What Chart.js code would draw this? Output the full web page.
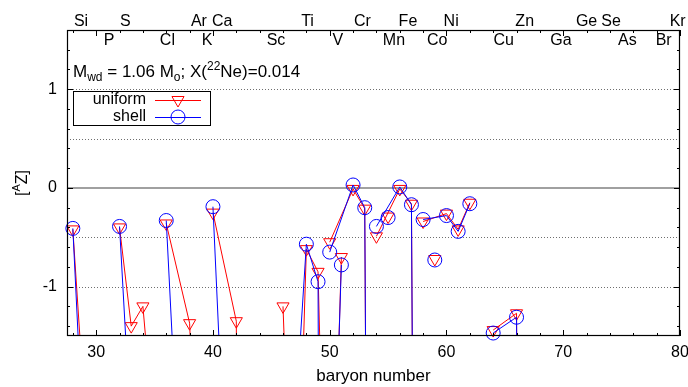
<!DOCTYPE html>
<html>
<head>
<meta charset="utf-8">
<script src="https://cdn.jsdelivr.net/npm/chart.js@4"></script>
<style>
  html, body { margin: 0; padding: 0; background: #fff; }
  #wrap { width: 688px; height: 387px; }
</style>
</head>
<body>
<div id="wrap"><canvas id="myChart"></canvas></div>
<script>
// isotopes grouped by element (Z order); each element is one connected run
const elements = ["Si", "P", "S", "Cl", "Ar", "K", "Ca", "Sc", "Ti", "V", "Cr", "Mn", "Fe", "Co", "Ni", "Cu", "Zn"];
const isotopes = [
  [28, 29, 30], [31], [32, 33, 34, 36], [35, 37], [36, 38, 40], [39, 41],
  [40, 42, 43, 44, 46, 48], [45], [46, 47, 48, 49, 50], [50, 51], [50, 52, 53, 54],
  [55], [54, 56, 57, 58], [59], [58, 60, 61, 62], [63, 65], [64, 66, 67, 68, 70]
];

// log production factors, uniform 22Ne
const uniform = [
  [-0.42, -2.22, -2.6], [-2.9], [-0.40, -1.40, -1.20, -3.9], [-2.6, -3.4], [-0.36, -1.37, -7.0], [-2.8, -3.5],
  [-0.25, -1.35, -20, -6.0, -9.0, -20], [-3.5], [-1.20, -4.45, -0.62, -0.85, -5.5], [-4.7, -0.70], [-0.55, -0.01, -0.21, -20],
  [-0.29], [-0.49, -0.01, -0.16, -20], [-0.72], [-0.34, -0.26, -0.42, -0.15], [-2.5, -2.4], [-1.44, -1.27, -20, -20, -20]
];

// log production factors, 22Ne in a shell
const shell = [
  [-0.41, -2.83, -3.0], [-3.0], [-0.39, -2.52, -2.8, -4.5], [-2.8, -3.6], [-0.33, -5.0, -8.0], [-3.0, -3.8],
  [-0.19, -5.4, -20, -7.0, -10, -20], [-4.0], [-3.0, -2.43, -0.57, -0.95, -30], [-4.4, -0.78], [-0.65, 0.03, -0.20, -20],
  [-0.30], [-0.39, 0.01, -0.17, -20], [-0.73], [-0.32, -0.28, -0.44, -0.16], [-2.7, -2.6], [-1.47, -1.31, -20, -20, -20]
];

// element names on the upper edge, two staggered rows
const upperNames = ["Si", "S", "Ar", "Ca", "Ti", "Cr", "Fe", "Ni", "Zn", "Ge", "Se", "Kr"];
const upperPos = [28.7, 32.5, 38.8, 40.8, 48.1, 52.8, 56.7, 60.4, 66.7, 72.0, 74.1, 79.8];
const lowerNames = ["P", "Cl", "K", "Sc", "V", "Mn", "Co", "Cu", "Ga", "As", "Br"];
const lowerPos = [31.1, 36.1, 39.5, 45.4, 50.7, 55.5, 59.2, 64.9, 69.8, 75.5, 78.6];

const xTickValues = [30, 40, 50, 60, 70, 80];
const yTickValues = [-1, 0, 1];
const dottedGrid = [1, 0.5, -0.5, -1];

const FONT = "'Liberation Sans', Arial, Helvetica, sans-serif";
const RED = "#ff0000";
const BLUE = "#0000ff";

// flatten the groups, with a null between elements so runs don't join
function toPoints(values) {
  const pts = [];
  isotopes.forEach((list, i) => {
    list.forEach((a, j) => pts.push({ x: a, y: values[i][j] }));
    pts.push({ x: list[list.length - 1], y: null });
  });
  return pts;
}

function triangleDown(ctx, x, y, r) {
  ctx.beginPath();
  ctx.moveTo(x, y + r);
  ctx.lineTo(x - r * 0.866, y - r / 2);
  ctx.lineTo(x + r * 0.866, y - r / 2);
  ctx.closePath();
  ctx.stroke();
}

function drawRuns(ctx, x, y, runs) {
  runs.forEach((r) => {
    ctx.font = r.s + "px " + FONT;
    ctx.fillText(r.t, x, y + (r.dy || 0));
    x += ctx.measureText(r.t).width;
  });
}

function runsWidth(ctx, runs) {
  let w = 0;
  runs.forEach((r) => {
    ctx.font = r.s + "px " + FONT;
    w += ctx.measureText(r.t).width;
  });
  return w;
}

const decorations = {
  id: "decorations",
  beforeDatasetsDraw(chart) {
    const { ctx, chartArea: a, scales: { y } } = chart;
    ctx.save();
    ctx.lineWidth = 1;
    ctx.strokeStyle = "#6e6e6e";
    ctx.setLineDash([1, 2]);
    dottedGrid.forEach((v) => {
      const py = Math.round(y.getPixelForValue(v)) + 0.5;
      ctx.beginPath();
      ctx.moveTo(a.left, py);
      ctx.lineTo(a.right, py);
      ctx.stroke();
    });
    ctx.setLineDash([]);
    ctx.strokeStyle = "#808080";
    ctx.lineWidth = 1.6;
    const y0 = y.getPixelForValue(0);
    ctx.beginPath();
    ctx.moveTo(a.left, y0);
    ctx.lineTo(a.right, y0);
    ctx.stroke();
    ctx.restore();
  },
  afterDraw(chart) {
    const { ctx, chartArea: a, scales: { x, y } } = chart;
    ctx.save();

    // frame
    ctx.strokeStyle = "#000";
    ctx.lineWidth = 1.2;
    ctx.strokeRect(a.left + 0.5, a.top + 0.5, a.right - a.left - 1, a.bottom - a.top - 1);

    // tick marks, inward on all four sides
    ctx.lineWidth = 1;
    ctx.beginPath();
    for (let v = 28; v <= 80; v += 2) {
      const px = Math.round(x.getPixelForValue(v)) + 0.5;
      const len = v % 10 === 0 ? 6 : 3;
      ctx.moveTo(px, a.bottom); ctx.lineTo(px, a.bottom - len);
      ctx.moveTo(px, a.top); ctx.lineTo(px, a.top + len);
    }
    for (let k = -7; k <= 8; k++) {
      const v = k * 0.2;
      const py = Math.round(y.getPixelForValue(v)) + 0.5;
      const len = k % 5 === 0 ? 6 : 3;
      ctx.moveTo(a.left, py); ctx.lineTo(a.left + len, py);
      ctx.moveTo(a.right, py); ctx.lineTo(a.right - len, py);
    }
    ctx.stroke();

    // element names
    ctx.fillStyle = "#000";
    ctx.font = "16px " + FONT;
    ctx.textAlign = "center";
    ctx.textBaseline = "alphabetic";
    upperNames.forEach((n, i) => ctx.fillText(n, x.getPixelForValue(upperPos[i]), 26));
    lowerNames.forEach((n, i) => ctx.fillText(n, x.getPixelForValue(lowerPos[i]), 45));

    // model label
    ctx.textAlign = "left";
    drawRuns(ctx, a.left + 6, 77, [
      { t: "M", s: 17 }, { t: "wd", s: 12, dy: 4 }, { t: " = 1.06 M", s: 17 }, { t: "o", s: 12, dy: 4 },
      { t: "; X(", s: 17 }, { t: "22", s: 12, dy: -7 }, { t: "Ne)=0.014", s: 17 }
    ]);

    // y axis title
    const yRuns = [{ t: "[", s: 16 }, { t: "A", s: 11, dy: -6 }, { t: "Z]", s: 16 }];
    ctx.save();
    ctx.translate(23, (a.top + a.bottom) / 2);
    ctx.rotate(-Math.PI / 2);
    ctx.textBaseline = "middle";
    drawRuns(ctx, -runsWidth(ctx, yRuns) / 2, 0, yRuns);
    ctx.restore();

    // key
    const kx = a.left + 6, ky = 91;
    ctx.strokeStyle = "#000";
    ctx.lineWidth = 1;
    ctx.strokeRect(kx + 0.5, ky + 0.5, 137, 34);
    ctx.font = "16px " + FONT;
    ctx.textAlign = "right";
    ctx.textBaseline = "middle";
    const rows = [["uniform", RED, 100], ["shell", BLUE, 117]];
    rows.forEach(([label, col, ry], i) => {
      ctx.fillStyle = "#000";
      ctx.fillText(label, kx + 73, ry);
      ctx.strokeStyle = col;
      ctx.beginPath();
      ctx.moveTo(kx + 82, ry + 0.5);
      ctx.lineTo(kx + 128, ry + 0.5);
      ctx.stroke();
      if (i === 0) triangleDown(ctx, kx + 105, ry, 7);
      else { ctx.beginPath(); ctx.arc(kx + 105, ry, 7, 0, Math.PI * 2); ctx.stroke(); }
    });

    ctx.restore();
  }
};

const lineSet = (label, values, color, order) => ({
  label,
  data: toPoints(values),
  borderColor: color,
  borderWidth: 1,
  pointRadius: 0,
  spanGaps: false,
  order,
});

const markSet = (label, values, color, style, order) => ({
  label,
  data: toPoints(values),
  showLine: false,
  borderColor: color,
  pointBorderColor: color,
  pointBackgroundColor: "rgba(0,0,0,0)",
  pointBorderWidth: 1,
  pointRadius: 7,
  pointStyle: style,
  rotation: style === "triangle" ? 180 : 0,
  clip: { left: 10, top: 10, right: 10, bottom: 10 },
  order,
});

const ctx = document.getElementById("myChart");

new Chart(ctx, {
  type: "line",
  data: {
    datasets: [
      lineSet("uniform", uniform, RED, 3),
      markSet("uniform", uniform, RED, "triangle", 2),
      lineSet("shell", shell, BLUE, 1),
      markSet("shell", shell, BLUE, "circle", 0),
    ],
  },
  options: {
    responsive: true,
    maintainAspectRatio: false,
    animation: false,
    layout: { padding: { top: 30, right: 8, left: 0, bottom: 0 } },
    plugins: {
      legend: { display: false },
      tooltip: { enabled: false },
    },
    scales: {
      x: {
        type: "linear",
        position: "bottom",
        min: 27.5,
        max: 80,
        afterBuildTicks(scale) {
          scale.ticks = xTickValues.map((v) => ({ value: v }));
        },
        afterFit(scale) {
          scale.height = 51;
          scale.paddingLeft = 0;
          scale.paddingRight = 0;
        },
        ticks: {
          color: "#000",
          padding: 7,
          maxRotation: 0,
          autoSkip: false,
          font: { family: FONT, size: 16 },
        },
        grid: { display: false, drawTicks: false },
        border: { display: false },
        title: {
          display: true,
          text: "baryon number",
          color: "#000",
          padding: 0,
          font: { family: FONT, size: 17 },
        },
      },
      y: {
        type: "linear",
        min: -1.5,
        max: 1.6,
        afterBuildTicks(scale) {
          scale.ticks = yTickValues.map((v) => ({ value: v }));
        },
        afterFit(scale) {
          scale.width = 67;
          scale.paddingTop = 0;
          scale.paddingBottom = 0;
        },
        ticks: {
          color: "#000",
          padding: 10,
          font: { family: FONT, size: 16 },
        },
        grid: { display: false, drawTicks: false },
        border: { display: false },
      },
    },
  },
  plugins: [decorations],
});
</script>
</body>
</html>
